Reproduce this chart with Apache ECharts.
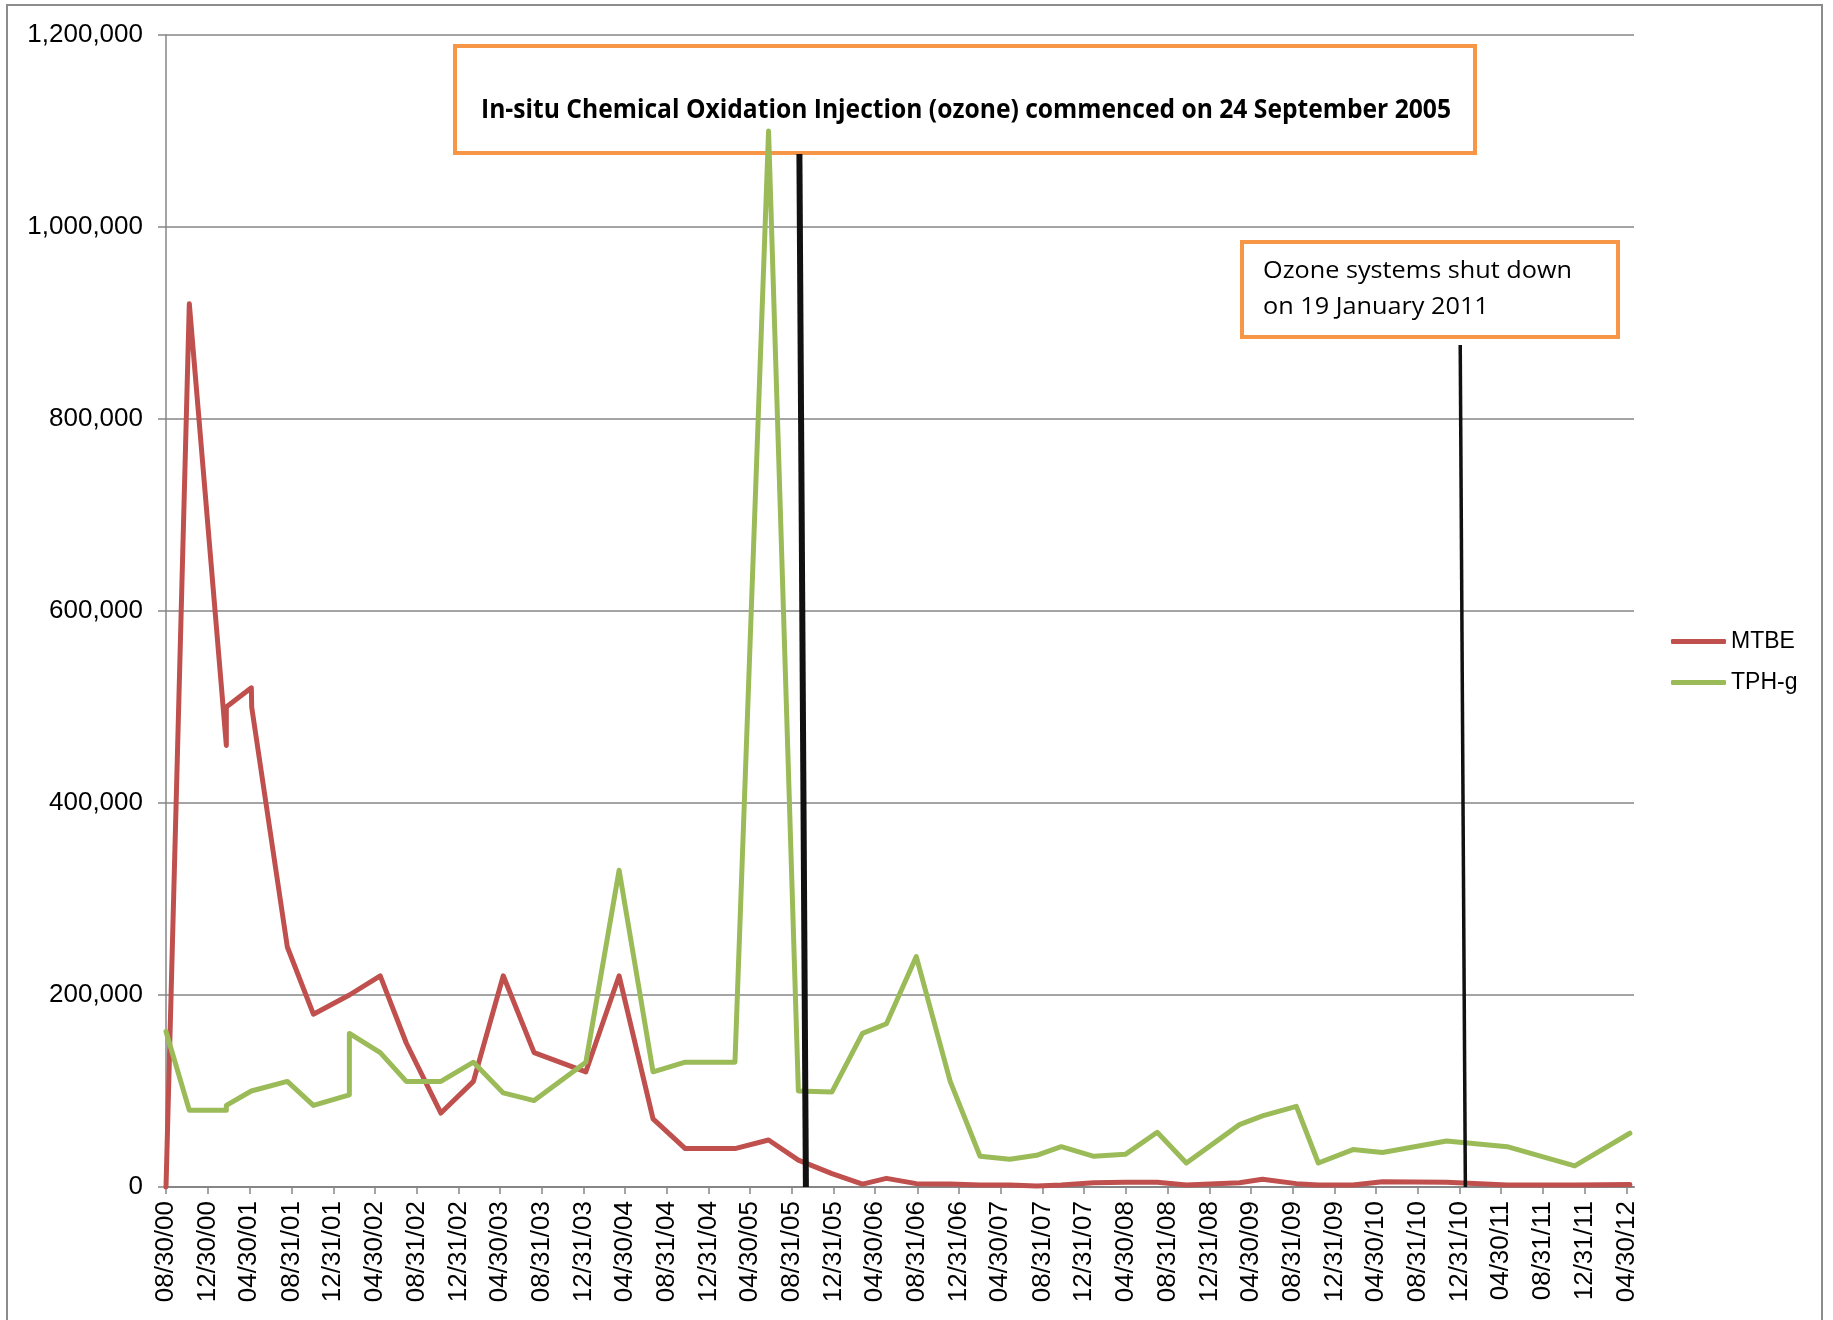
<!DOCTYPE html>
<html>
<head>
<meta charset="utf-8">
<script src="https://cdn.jsdelivr.net/npm/echarts@6/dist/echarts.min.js"></script>
<style>
html, body { margin: 0; padding: 0; background: #fff; }
#chart { width: 1833px; height: 1320px; }
</style>
</head>
<body>
<div id="chart"></div>
<script>
// tick labels on the date axis (every 4 months)
const tickLabels = ['08/30/00','12/30/00','04/30/01','08/31/01','12/31/01','04/30/02','08/31/02','12/31/02',
  '04/30/03','08/31/03','12/31/03','04/30/04','08/31/04','12/31/04','04/30/05','08/31/05','12/31/05',
  '04/30/06','08/31/06','12/31/06','04/30/07','08/31/07','12/31/07','04/30/08','08/31/08','12/31/08',
  '04/30/09','08/31/09','12/31/09','04/30/10','08/31/10','12/31/10','04/30/11','08/31/11','12/31/11','04/30/12']

// sampling dates
const sampleDates = ['2000-08-30','2000-11-06','2001-02-22','2001-02-22','2001-05-06','2001-05-07','2001-08-19',
  '2001-11-03','2002-02-16','2002-02-16','2002-05-17','2002-08-01','2002-11-10','2003-02-13','2003-05-11',
  '2003-08-09','2004-01-07','2004-04-13','2004-07-21','2004-10-23','2005-03-17','2005-06-23','2005-09-18',
  '2005-12-25','2006-03-24','2006-06-02','2006-08-28','2006-12-05','2007-03-02','2007-05-28','2007-08-14',
  '2007-10-25','2008-01-28','2008-04-29','2008-07-31','2008-10-24','2009-03-28','2009-06-03','2009-09-10',
  '2009-11-13','2010-02-22','2010-05-19','2010-11-22','2011-05-18','2011-12-01','2012-05-10']

const mtbe = [0, 920000, 460000, 500000, 520000, 500000, 250000, 180000, 200000, 200000,
  220000, 150000, 77000, 110000, 220000, 140000, 120000, 220000, 71000, 40000,
  40000, 49000, 28000, 14000, 3000, 9000, 3500, 3000, 2000, 2000,
  1000, 2000, 4500, 5000, 5000, 2000, 4500, 8000, 3500, 2000,
  2000, 5500, 5000, 2000, 2000, 2500]

const tphg = [162000, 80000, 80000, 85000, 100000, 100000, 110000, 85000, 96000, 160000,
  140000, 110000, 110000, 130000, 98000, 90000, 130000, 330000, 120000, 130000,
  130000, 1100000, 100000, 99000, 160000, 170000, 240000, 110000, 32000, 29000,
  33000, 42000, 32000, 34000, 57000, 25000, 65000, 74000, 84000, 25000,
  39000, 36000, 48000, 42000, 22000, 56000]

// annotation lines: [date, value] of each end
const ozoneStartLine = [['2005-09-21', 1076000], ['2005-10-10', 0]]
const ozoneStopLine = [['2011-01-01', 877000], ['2011-01-16', 0]]

const axisStart = '2000-08-30'
const axisEnd = '2012-05-22'

const noteStart = 'In-situ Chemical Oxidation Injection (ozone) commenced on 24 September 2005'
const noteStop = ['Ozone systems shut down', 'on 19 January 2011']

const parseTick = (s) => {
    const [mm, dd, yy] = s.split('/').map(Number)
    return Date.UTC(2000 + yy, mm - 1, dd)
}
const tickValues = tickLabels.map(parseTick)

const fitScale = (text, font, target) => {
    const ctx = document.createElement('canvas').getContext('2d')
    ctx.font = font
    return target / ctx.measureText(text).width
}

const fontStart = 'bold 27px "Open Sans"'
const fontStop = '24px "Open Sans"'
const scaleStart = fitScale(noteStart, fontStart, 970)
const scaleStop = fitScale(noteStop[0], fontStop, 309)

const chart = echarts.init(document.getElementById('chart'))

const gridGrey = '#868686'

const option = {
    animation: false,
    backgroundColor: '#fff',
    grid: { left: 166, right: 199, top: 35, bottom: 133 },
    legend: {
        orient: 'vertical',
        left: 1666,
        top: 625,
        itemWidth: 55,
        itemHeight: 5,
        itemGap: 18,
        icon: 'roundRect',
        data: ['MTBE', 'TPH-g'],
        textStyle: { fontSize: 23, fontFamily: 'Liberation Sans', color: '#000' }
    },
    xAxis: {
        type: 'value',
        min: Date.parse(axisStart),
        max: Date.parse(axisEnd),
        splitLine: { show: false },
        axisLine: { lineStyle: { color: gridGrey, width: 2 } },
        axisTick: { customValues: tickValues, length: 7, lineStyle: { color: gridGrey, width: 1.5 } },
        axisLabel: {
            customValues: tickValues,
            rotate: 90,
            margin: 14,
            fontSize: 26,
            fontFamily: 'Liberation Sans',
            color: '#000',
            formatter: (v) => {
                const i = tickValues.indexOf(v)
                return i >= 0 ? tickLabels[i] : ''
            }
        }
    },
    yAxis: {
        type: 'value',
        min: 0,
        max: 1200000,
        interval: 200000,
        axisLine: { show: true, lineStyle: { color: gridGrey, width: 1.5 } },
        axisTick: { show: true, length: 8, lineStyle: { color: gridGrey, width: 1.5 } },
        splitLine: { lineStyle: { color: gridGrey, width: 1.5 } },
        axisLabel: {
            margin: 23,
            fontSize: 26,
            fontFamily: 'Liberation Sans',
            color: '#000',
            formatter: (v) => v.toLocaleString('en-US')
        }
    },
    series: [
        {
            name: 'MTBE',
            type: 'line',
            symbol: 'none',
            data: sampleDates.map((d, i) => [Date.parse(d), mtbe[i]]),
            itemStyle: { color: '#C0504D' },
            lineStyle: { color: '#C0504D', width: 5, cap: 'round', join: 'round' }
        },
        {
            name: 'TPH-g',
            type: 'line',
            symbol: 'none',
            data: sampleDates.map((d, i) => [Date.parse(d), tphg[i]]),
            itemStyle: { color: '#9BBB59' },
            lineStyle: { color: '#9BBB59', width: 5, cap: 'round', join: 'round' }
        },
        {
            name: 'notes',
            type: 'line',
            data: [],
            z: 5,
            markLine: {
                silent: true,
                symbol: ['none', 'none'],
                label: { show: false },
                data: [
                    [
                        { coord: [Date.parse(ozoneStartLine[0][0]), ozoneStartLine[0][1]], lineStyle: { color: '#111', width: 6, type: 'solid' } },
                        { coord: [Date.parse(ozoneStartLine[1][0]), ozoneStartLine[1][1]] }
                    ],
                    [
                        { coord: [Date.parse(ozoneStopLine[0][0]), ozoneStopLine[0][1]], lineStyle: { color: '#111', width: 3.5, type: 'solid' } },
                        { coord: [Date.parse(ozoneStopLine[1][0]), ozoneStopLine[1][1]] }
                    ]
                ]
            }
        }
    ],
    graphic: [
        {
            type: 'rect',
            shape: { x: 7, y: 5, width: 1815, height: 1340 },
            style: { fill: 'none', stroke: '#8c8c8c', lineWidth: 2 }
        },
        {
            type: 'rect',
            shape: { x: 455, y: 46, width: 1020, height: 107 },
            style: { fill: 'none', stroke: '#F79646', lineWidth: 4 }
        },
        {
            type: 'text',
            x: 966,
            y: 110,
            scaleX: scaleStart,
            style: { text: noteStart, font: fontStart, fill: '#000', textAlign: 'center', textVerticalAlign: 'middle' }
        },
        {
            type: 'rect',
            shape: { x: 1242, y: 242, width: 376, height: 95 },
            style: { fill: 'none', stroke: '#F79646', lineWidth: 4 }
        },
        {
            type: 'text',
            x: 1263,
            y: 271,
            scaleX: scaleStop,
            style: { text: noteStop[0], font: fontStop, fill: '#000', textAlign: 'left', textVerticalAlign: 'middle' }
        },
        {
            type: 'text',
            x: 1263,
            y: 307,
            scaleX: scaleStop,
            style: { text: noteStop[1], font: fontStop, fill: '#000', textAlign: 'left', textVerticalAlign: 'middle' }
        }
    ]
}

chart.setOption(option)
</script>
</body>
</html>
